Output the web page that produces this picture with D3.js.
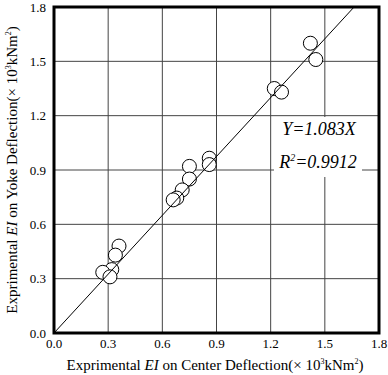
<!DOCTYPE html>
<html>
<head>
<meta charset="utf-8">
<script src="https://cdn.jsdelivr.net/npm/d3@7"></script>
<style>
  body { margin: 0; background: #fff; }
  text { font-family: "Liberation Serif", "DejaVu Serif", serif; fill: #000; }
</style>
</head>
<body>
<div class="svg-container"></div>
<script>
// measured EI values (x 10^3 kNm^2)
var centerEI = [1.42, 1.45, 1.22, 1.26, 0.86, 0.86, 0.75, 0.75, 0.71, 0.68, 0.66, 0.36, 0.34, 0.32, 0.27, 0.31];
var yokeEI   = [1.60, 1.51, 1.35, 1.33, 0.965, 0.93, 0.92, 0.85, 0.79, 0.745, 0.735, 0.48, 0.43, 0.35, 0.335, 0.31];
var ticks = [0.0, 0.3, 0.6, 0.9, 1.2, 1.5, 1.8];
var slope = 1.083;
var r2 = "0.9912";

var width = 388, height = 375;
var plotLeft = 54, plotRight = 379, plotTop = 7, plotBottom = 333;

var svg = d3.select(".svg-container").append("svg")
  .attr("width", width)
  .attr("height", height);

var x = d3.scaleLinear().domain([0, 1.8]).range([plotLeft, plotRight]);
var y = d3.scaleLinear().domain([0, 1.8]).range([plotBottom, plotTop]);

// grid
svg.append("g")
  .selectAll("line")
  .data(ticks.slice(1, -1))
  .enter().append("line")
  .attr("x1", function(d) { return x(d); })
  .attr("x2", function(d) { return x(d); })
  .attr("y1", plotTop).attr("y2", plotBottom)
  .attr("stroke", "#444").attr("stroke-width", 1);

svg.append("g")
  .selectAll("line")
  .data(ticks.slice(1, -1))
  .enter().append("line")
  .attr("y1", function(d) { return y(d); })
  .attr("y2", function(d) { return y(d); })
  .attr("x1", plotLeft).attr("x2", plotRight)
  .attr("stroke", "#444").attr("stroke-width", 1);

// white box behind equation
svg.append("rect")
  .attr("x", 274).attr("y", 117)
  .attr("width", 88).attr("height", 60)
  .attr("fill", "#fff");

// points
var pts = centerEI.map(function(v, i) { return {x: v, y: yokeEI[i]}; });
svg.append("g")
  .selectAll("circle")
  .data(pts)
  .enter().append("circle")
  .attr("cx", function(d) { return x(d.x); })
  .attr("cy", function(d) { return y(d.y); })
  .attr("r", 7)
  .attr("fill", "#fff")
  .attr("stroke", "#000")
  .attr("stroke-width", 1);

// fit line
svg.append("line")
  .attr("x1", x(0)).attr("y1", y(0))
  .attr("x2", x(1.8 / slope)).attr("y2", y(1.8))
  .attr("stroke", "#000").attr("stroke-width", 1);

// frame
svg.append("rect")
  .attr("x", plotLeft).attr("y", plotTop)
  .attr("width", plotRight - plotLeft).attr("height", plotBottom - plotTop)
  .attr("fill", "none").attr("stroke", "#000").attr("stroke-width", 3);

// tick labels
svg.append("g")
  .selectAll("text")
  .data(ticks)
  .enter().append("text")
  .attr("x", function(d) { return x(d); })
  .attr("y", 348)
  .attr("text-anchor", "middle")
  .style("font-size", "13px")
  .text(function(d) { return d.toFixed(1); });

svg.append("g")
  .selectAll("text")
  .data(ticks)
  .enter().append("text")
  .attr("x", 46)
  .attr("y", function(d) { return y(d) + 4.5; })
  .attr("text-anchor", "end")
  .style("font-size", "13px")
  .text(function(d) { return d.toFixed(1); });

// axis titles
function axisTitle(g, label) {
  var t = g.append("text").attr("text-anchor", "middle").style("font-size", "15px");
  t.append("tspan").text("Exprimental ");
  t.append("tspan").style("font-style", "italic").text("EI");
  t.append("tspan").text(" on " + label + " Deflection(\u00d7 10");
  t.append("tspan").attr("dy", -6).style("font-size", "8px").text("3");
  t.append("tspan").attr("dy", 6).text("kNm");
  t.append("tspan").attr("dy", -6).style("font-size", "8px").text("2");
  t.append("tspan").attr("dy", 6).text(")");
  return t;
}

axisTitle(svg.append("g").attr("transform", "translate(215,370)"), "Center");
axisTitle(svg.append("g").attr("transform", "translate(17,170) rotate(-90)"), "Yoke");

// equation
svg.append("text")
  .attr("x", 319).attr("y", 135)
  .attr("text-anchor", "middle")
  .style("font-size", "18px").style("font-style", "italic")
  .text("Y=" + slope + "X");

var eq = svg.append("text")
  .attr("x", 318).attr("y", 168)
  .attr("text-anchor", "middle")
  .style("font-size", "18px").style("font-style", "italic");
eq.append("tspan").text("R");
eq.append("tspan").attr("dy", -7).style("font-size", "10px").text("2");
eq.append("tspan").attr("dy", 7).text("=" + r2);
</script>
</body>
</html>
